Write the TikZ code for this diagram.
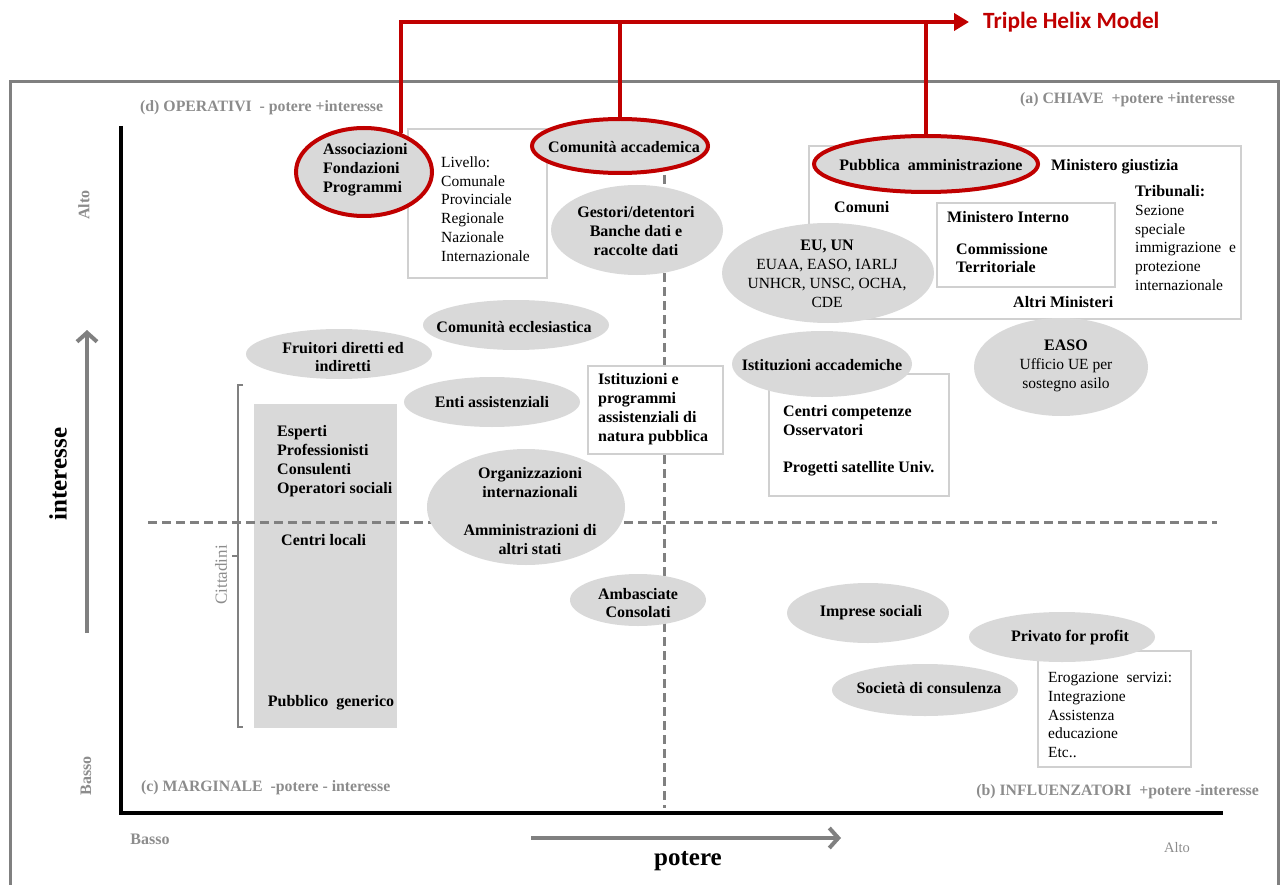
\documentclass[tikz,border=0pt]{standalone}
\usepackage{fontspec}
\setmainfont{Liberation Serif}
\newfontfamily\helixfont{Carlito}
\usetikzlibrary{shapes.geometric,arrows.meta}
\definecolor{thred}{RGB}{192,0,0}
\definecolor{ellgray}{RGB}{217,217,217}
\definecolor{boxgray}{RGB}{208,208,208}
\definecolor{framegray}{RGB}{128,128,128}
\definecolor{labgray}{RGB}{140,140,140}
\definecolor{dashgray}{RGB}{128,128,128}
\newcommand\myB{\fontsize{16}{18.8}\selectfont\bfseries}
\newcommand\myR{\fontsize{15.5}{18.8}\selectfont}
\newcommand\myQ{\fontsize{15.8}{18}\selectfont\bfseries}
\newcommand\myBig{\fontsize{25}{28}\selectfont\bfseries}
\newcommand\myAx{\fontsize{16}{18}\selectfont\bfseries}
\begin{document}
\begin{tikzpicture}[x=1pt,y=-1pt,
  ell/.style={ellipse, fill=ellgray, draw=none, inner sep=0pt},
  redell/.style={ell, draw=thred, line width=4pt},
  boxnode/.style={rectangle, draw=boxgray, line width=1.8pt, fill=white, inner sep=0pt, anchor=north west},
  tb/.style={font=\myB, align=left, inner sep=0pt, anchor=west},
  tbc/.style={font=\myB, align=center, inner sep=0pt},
  tr/.style={font=\myR, align=left, inner sep=0pt, anchor=west},
  qlab/.style={font=\myQ, text=labgray, inner sep=0pt},
  redline/.style={draw=thred, line width=4pt},
  dashline/.style={draw=dashgray, line width=3pt, dash pattern=on 9pt off 5pt},
  grayarrow/.style={draw=framegray, line width=4pt, -{Straight Barb[length=9pt,width=20pt]}},
]
\useasboundingbox (0,0) rectangle (1281,885);
\clip (0,0) rectangle (1281,885);

% outer frame
\draw[framegray, line width=3pt] (10,900) -- (10,82) -- (1278,82) -- (1278,900);

% grey block of citizens
\node[rectangle, fill=ellgray, inner sep=0pt, anchor=north west, minimum width=143pt, minimum height=324pt] (espR) at (254,404) {};

% dashed quadrant lines
\coordinate (dvTop) at (664,175);
\coordinate (dvBot) at (664,808);
\coordinate (dhL) at (148,522);
\coordinate (dhR) at (1217,522);
\draw[dashline] (dvTop) -- (dvBot);
\draw[dashline] (dhL) -- (dhR);

% boxes
\node[boxnode, minimum width=139pt, minimum height=149pt] (livB) at (407,128) {};
\node[boxnode, minimum width=432pt, minimum height=173pt] (pubB) at (808,145) {};
\node[boxnode, minimum width=178pt, minimum height=84pt] (minB) at (936,202) {};
\node[boxnode, minimum width=135pt, minimum height=88pt] (istB) at (587,365) {};
\node[boxnode, minimum width=180pt, minimum height=122pt] (cenB) at (768,373) {};
\node[boxnode, minimum width=153pt, minimum height=116pt] (eroB) at (1037,650) {};

% ellipses
\node[redell, minimum width=136pt, minimum height=88pt] (assocE) at (364,172) {};
\node[redell, minimum width=176pt, minimum height=54pt] (comacE) at (620,146) {};
\node[redell, minimum width=224pt, minimum height=56pt] (pubE) at (926,164) {};
\node[ell, minimum width=172pt, minimum height=90pt] (gestE) at (637,230) {};
\node[ell, minimum width=212pt, minimum height=100pt] (euE) at (828,273) {};
\node[ell, minimum width=186pt, minimum height=50pt] (eccE) at (516,325) {};
\node[ell, minimum width=186pt, minimum height=50pt] (fruE) at (339,354) {};
\node[ell, minimum width=180pt, minimum height=66pt] (istaccE) at (822,364) {};
\node[ell, minimum width=174pt, minimum height=98pt] (easoE) at (1061,367) {};
\node[ell, minimum width=176pt, minimum height=50pt] (entiE) at (492,402) {};
\node[ell, minimum width=198pt, minimum height=116pt] (orgE) at (526,507) {};
\node[ell, minimum width=136pt, minimum height=52pt] (ambE) at (638,600) {};
\node[ell, minimum width=162pt, minimum height=60pt] (impE) at (868,613) {};
\node[ell, minimum width=186pt, minimum height=50pt] (priE) at (1062,637) {};
\node[ell, minimum width=186pt, minimum height=52pt] (socE) at (925,690) {};

% texts in ellipses
\node[tb] (assocT) at (323,170) {Associazioni\\Fondazioni\\Programmi};
\node[tbc] (comacT) at (624,147) {Comunità accademica};
\node[tbc] (pubT) at (931,165) {Pubblica\ \ amministrazione};
\node[tbc] (gestT) at (636,231) {Gestori/detentori\\Banche dati e\\raccolte dati};
\node[tbc, font=\myR] (euT) at (827,274) {{\myB EU, UN}\\EUAA, EASO, IARLJ\\UNHCR, UNSC, OCHA,\\CDE};
\node[tbc] (eccT) at (514,327) {Comunità ecclesiastica};
\node[tbc] (fruT) at (343,357) {Fruitori diretti ed\\indiretti};
\node[tbc] (istaccT) at (822,365) {Istituzioni accademiche};
\node[tbc, font=\myR] (easoT) at (1066,366) {{\myB EASO}\\Ufficio UE per\\sostegno asilo};
\node[tbc] (entiT) at (492,402) {Enti assistenziali};
\node[tbc] (orgT) at (530,511) {Organizzazioni\\internazionali\\[18.8pt]Amministrazioni di\\altri stati};
\node[tbc] (ambT) at (638,603) {Ambasciate\\Consolati};
\node[tbc] (impT) at (871,613) {Imprese sociali};
\node[tbc] (priT) at (1070,638) {Privato for profit};
\node[tbc] (socT) at (929,688) {Società di consulenza};

% texts in boxes
\node[tr] (livT) at (441,209) {Livello:\\Comunale\\Provinciale\\Regionale\\Nazionale\\Internazionale};
\node[tb] (istT) at (598,409) {Istituzioni e\\programmi\\assistenziali di\\natura pubblica};
\node[tb] (cenT) at (783,441) {Centri competenze\\Osservatori\\[18.8pt]Progetti satellite Univ.};
\node[tr] (eroT) at (1048,715) {Erogazione\ \ servizi:\\Integrazione\\Assistenza\\educazione\\Etc..};
\node[tb] (minGT) at (1051,167) {Ministero giustizia};
\node[tr] (tribT) at (1135,238) {{\myB Tribunali:}\\Sezione\\speciale\\immigrazione\ \ e\\protezione\\internazionale};
\node[tb] (comT) at (834,207) {Comuni};
\node[tb] (minIT) at (947,217) {Ministero Interno};
\node[tb] (commT) at (956,258) {Commissione\\Territoriale};
\node[tb] (altT) at (1013,302) {Altri Ministeri};
\node[tb] (espT) at (277,461) {Esperti\\Professionisti\\Consulenti\\Operatori sociali};
\node[tb] (cloT) at (281,540) {Centri locali};
\node[tbc] (pgT) at (331,703) {Pubblico\ \ generico};

% axes
\coordinate (yTop) at (121,126);
\coordinate (orig) at (121,813);
\coordinate (xEnd) at (1223,813);
\draw[black, line width=4pt] (yTop) -- (orig) -- (xEnd);

% axis arrows
\coordinate (intS) at (87,633);
\coordinate (intE) at (87,330);
\draw[grayarrow] (intS) -- (intE);
\coordinate (potS) at (531,838);
\coordinate (potE) at (841,838);
\draw[grayarrow] (potS) -- (potE);

% Cittadini bracket
\coordinate (brT) at (243,385);
\coordinate (brB) at (243,727);
\coordinate (brM) at (238,556);
\draw[framegray, line width=1.8pt] (brT) -- (238,385) -- (238,727) -- (brB);
\draw[framegray, line width=1.8pt] (brM) -- (232,556);
\node[font=\fontsize{17}{19}\selectfont, text=labgray, rotate=90, inner sep=0pt] (citT) at (221,575) {Cittadini};

% axis labels
\node[font=\myBig, rotate=90, inner sep=0pt] (intT) at (58,474) {interesse};
\node[font=\myBig, inner sep=0pt] (potT) at (688,861) {potere};
\node[qlab, font=\myAx, rotate=90] (altoY) at (84,205) {Alto};
\node[qlab, font=\myAx, rotate=90] (bassoY) at (86,776) {Basso};
\node[qlab, font=\myAx] (bassoX) at (150,839) {Basso};
\node[qlab, font=\fontsize{14.5}{16}\selectfont] (altoX) at (1177,848) {Alto};

% quadrant labels
\node[qlab, anchor=west] (qd) at (140,108) {(d) OPERATIVI\ \ - potere +interesse};
\node[qlab, anchor=east] (qa) at (1235,100) {(a) CHIAVE\ \ +potere +interesse};
\node[qlab, anchor=west] (qc) at (141,788) {(c) MARGINALE\ \ -potere - interesse};
\node[qlab, anchor=east] (qb) at (1259,792) {(b) INFLUENZATORI\ \ +potere -interesse};

% Triple Helix
\node[anchor=west, inner xsep=14pt, inner ysep=0pt, text=thred, font=\helixfont\fontsize{23.3}{26}\selectfont\bfseries] (thm) at (969,22) {Triple Helix Model};
\draw[redline, -{Triangle[length=15pt,width=17pt]}] (assocE.47) |- (thm.west);
\draw[redline] (comacE.north) -- (comacE.north |- thm.west);
\draw[redline] (pubE.north) -- (pubE.north |- thm.west);
\end{tikzpicture}
\end{document}
